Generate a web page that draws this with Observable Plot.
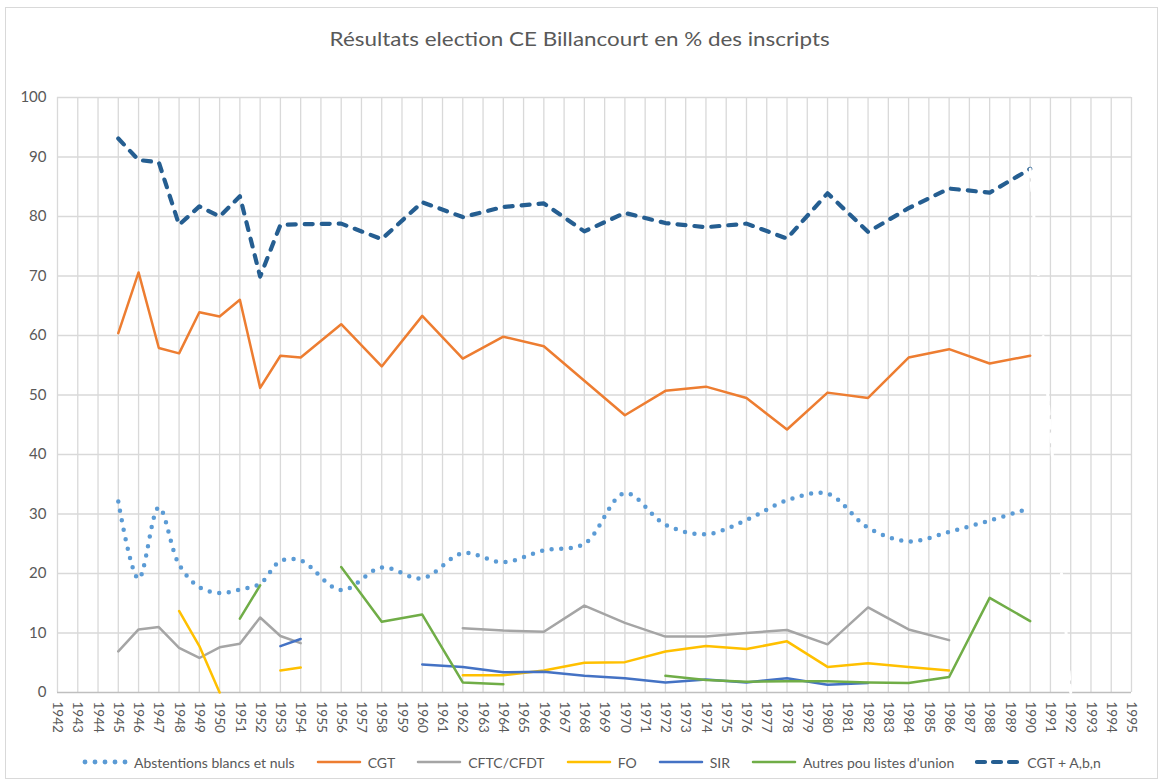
<!DOCTYPE html>
<html>
<head>
<meta charset="utf-8">
<script src="https://cdn.jsdelivr.net/npm/d3@7"></script>
<script src="https://cdn.jsdelivr.net/npm/@observablehq/plot@0.6"></script>
<style>
  html, body { margin: 0; padding: 0; background: #fff; }
  body { width: 1160px; height: 780px; position: relative; overflow: hidden; font-family: Lato, "Open Sans", sans-serif; color: #595959; }
  #frame { position: absolute; left: 5px; top: 7px; width: 1153px; height: 772px; border: 1px solid #d9d9d9; box-sizing: border-box; }
  #title { position: absolute; left: 0; top: 0; width: 1160px; height: 76px; line-height: 76px; text-align: center; font-size: 20px; color: #595959; transform: scaleX(1.12); transform-origin: 583px 38px; }
  #chart { position: absolute; left: 0; top: 80px; }
  #legend { position: absolute; left: 82px; top: 750px; height: 24px; display: flex; align-items: center; gap: 21px; font-size: 14px; color: #595959; white-space: nowrap; }
  .item { display: flex; align-items: center; }
  .item svg { margin-right: 6px; }
</style>
</head>
<body>
<div id="frame"></div>
<div id="title">Résultats election CE Billancourt en % des inscripts</div>
<div id="chart"></div>
<div id="legend"></div>
<script>
// Category axis labels
const axisYears = d3.range(1942, 1996);

// Election years (x positions of the data)
const years = [1945, 1946, 1947, 1948, 1949, 1950, 1951, 1952, 1953, 1954,
               1956, 1958, 1960, 1962, 1964, 1966, 1968, 1970, 1972, 1974,
               1976, 1978, 1980, 1982, 1984, 1986, 1988, 1990];

// Series (% des inscrits), aligned with `years`; null = no value (gap)
const abstentions = [32.1, 19.1, 31.1, 21.5, 17.7, 16.7, 17.3, 18.3, 22.1, 22.2,
                     17.2, 21.0, 19.2, 23.4, 21.9, 23.9, 25.0, 33.5, 28.2, 26.6,
                     29.0, 32.3, 33.4, 27.7, 25.4, 27.0, 28.9, 31.0];
const cgt = [60.4, 70.6, 57.9, 57.0, 63.9, 63.2, 66.0, 51.2, 56.6, 56.3,
             61.9, 54.8, 63.3, 56.1, 59.8, 58.2, 52.4, 46.6, 50.7, 51.4,
             49.5, 44.2, 50.4, 49.5, 56.3, 57.7, 55.3, 56.6];
const cftc = [6.9, 10.6, 11.0, 7.5, 5.8, 7.6, 8.2, 12.6, 9.5, 8.3,
              null, null, null, 10.8, 10.4, 10.2, 14.6, 11.7, 9.4, 9.4,
              10.0, 10.5, 8.1, 14.3, 10.6, 8.8, null, null];
const fo = [null, null, null, 13.7, 7.8, 0, null, null, 3.7, 4.2,
            null, null, null, 2.9, 2.9, 3.7, 5.0, 5.1, 6.9, 7.8,
            7.3, 8.6, 4.3, 4.9, 4.3, 3.7, null, null];
const sir = [null, null, null, null, null, null, null, null, 7.8, 9.0,
             null, null, 4.7, 4.3, 3.4, 3.5, 2.8, 2.4, 1.7, 2.2,
             1.7, 2.4, 1.3, 1.6, null, null, null, null];
const autres = [null, null, null, null, null, null, 12.4, 18.0, null, null,
                21.1, 11.9, 13.1, 1.7, 1.4, null, null, null, 2.8, 2.1,
                1.8, 1.9, 1.9, 1.7, 1.6, 2.6, 15.9, 12.0];
const cgtAbn = [93.1, 89.5, 89.1, 78.6, 81.7, 80.0, 83.4, 69.9, 78.6, 78.7,
                78.8, 76.2, 82.4, 79.9, 81.6, 82.2, 77.5, 80.6, 78.9, 78.2,
                78.8, 76.3, 83.9, 77.4, 81.4, 84.7, 84.0, 88.0];
// trailing (white) segment of the last series
const hiddenYears = [1990, 1992];
const hiddenValues = [88.0, 0];

const yTicks = d3.range(0, 101, 10);

const seriesDefs = [
  {name: "Abstentions blancs et nuls", values: abstentions, color: "#5B9BD5", width: 4.5, dash: "0,9.6", curve: "catmull-rom", kind: "dot"},
  {name: "CGT", values: cgt, color: "#ED7D31", width: 2.5},
  {name: "CFTC/CFDT", values: cftc, color: "#A5A5A5", width: 2.5},
  {name: "FO", values: fo, color: "#FFC000", width: 2.5},
  {name: "SIR", values: sir, color: "#4472C4", width: 2.5},
  {name: "Autres pou listes d'union", values: autres, color: "#70AD47", width: 2.5},
  {name: "CGT + A,b,n", values: cgtAbn, color: "#255E91", width: 4.2, dash: "8,9", kind: "dash"}
];

const rowsOf = (xs, vs) => xs.map((x, i) => ({year: x, value: vs[i]}));

const marks = [
  Plot.ruleX(axisYears, {y1: 0, y2: 100, stroke: "#d9d9d9", strokeWidth: 1.3}),
  Plot.ruleY(yTicks.filter(d => d > 0), {stroke: "#d9d9d9", strokeWidth: 1.3}),
  Plot.ruleY([0], {stroke: "#bfbfbf", strokeWidth: 1.6})
];
for (const s of seriesDefs) {
  marks.push(Plot.line(rowsOf(years, s.values), {
    x: "year", y: "value",
    stroke: s.color, strokeWidth: s.width,
    strokeDasharray: s.dash, strokeLinecap: "round", strokeLinejoin: "round",
    curve: s.curve || "linear"
  }));
}
marks.push(Plot.line(rowsOf(hiddenYears, hiddenValues), {
  x: "year", y: "value", stroke: "#ffffff", strokeWidth: 3, strokeDasharray: "8,6"
}));

const chart = Plot.plot({
  width: 1160,
  height: 668,
  marginLeft: 57,
  marginRight: 29,
  marginTop: 17,
  marginBottom: 56,
  style: {fontFamily: "Lato, 'Open Sans', sans-serif", fontSize: "13px", color: "#595959", background: "transparent", overflow: "visible"},
  x: {type: "linear", domain: [1942, 1995], label: null},
  y: {domain: [0, 100], label: null},
  marks: [
    ...marks,
    Plot.axisX({ticks: axisYears, tickFormat: d => String(d), tickRotate: 90, tickSize: 0, tickPadding: 9, label: null, fontSize: 13.5}),
    Plot.axisY({ticks: yTicks, tickSize: 0, tickPadding: 11, label: null, fontSize: 15})
  ]
});
document.getElementById("chart").appendChild(chart);

// Legend
const legend = d3.select("#legend");
for (const s of seriesDefs) {
  const item = legend.append("div").attr("class", "item");
  const sw = item.append("svg").attr("width", 46).attr("height", 12);
  if (s.kind === "dot") {
    sw.selectAll("circle").data(d3.range(5)).join("circle")
      .attr("cx", i => 3 + i * 10).attr("cy", 6).attr("r", 2.4).attr("fill", s.color);
  } else {
    sw.append("line").attr("x1", 2).attr("x2", 44).attr("y1", 6).attr("y2", 6)
      .attr("stroke", s.color).attr("stroke-width", s.kind === "dash" ? 4.2 : 2.5)
      .attr("stroke-linecap", "round")
      .attr("stroke-dasharray", s.kind === "dash" ? "8,8" : null);
  }
  item.append("span").text(s.name);
}
</script>
</body>
</html>
